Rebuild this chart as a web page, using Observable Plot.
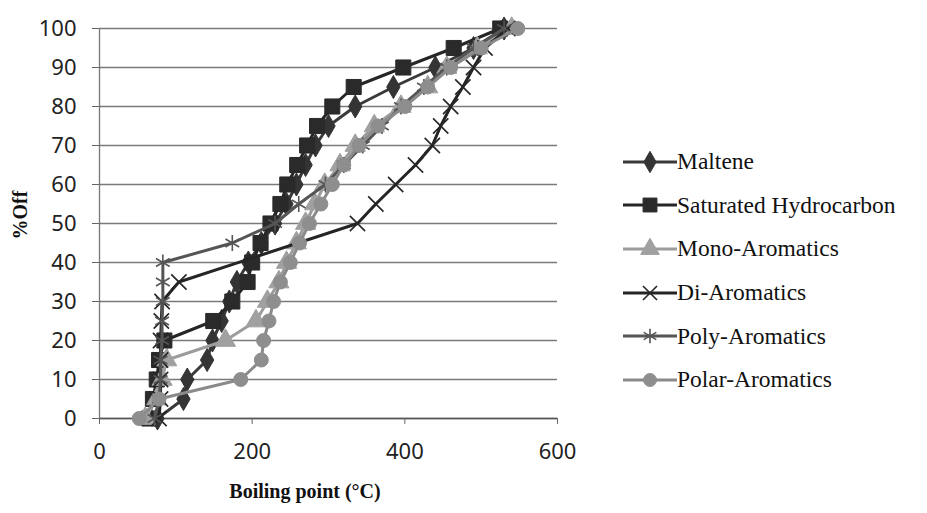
<!DOCTYPE html>
<html><head><meta charset="utf-8">
<script src="https://cdn.jsdelivr.net/npm/d3@7"></script>
<script src="https://cdn.jsdelivr.net/npm/@observablehq/plot@0.6"></script>
<style>
body{margin:0;background:#fff;}
#wrap{position:relative;width:927px;height:513px;overflow:hidden;background:#fff;}
#chart{position:absolute;left:0;top:0;}
#xlabel{position:absolute;left:305px;top:480px;transform:translateX(-50%);font:bold 20px "Liberation Serif";color:#111;white-space:nowrap;}
#ylabel{position:absolute;left:20px;top:215px;transform:translate(-50%,-50%) rotate(-90deg);font:bold 20px "Liberation Serif";color:#111;white-space:nowrap;}
#legend{position:absolute;left:623px;top:140px;}
.item{display:flex;align-items:center;height:43.6px;font:23.5px "Liberation Serif";color:#111;white-space:nowrap;}
.item svg{margin-right:0px;}
</style></head><body>
<div id="wrap"><div id="chart"></div><div id="xlabel">Boiling point (°C)</div><div id="ylabel">%Off</div><div id="legend"></div></div>
<script>
// Percent off levels
const pctAll = [0,5,10,15,20,25,30,35,40,45,50,55,60,65,70,75,80,85,90,95,100];
const pctDi  = [0,5,10,15,20,25,30,35,50,55,60,65,70,75,80,85,90,95,100];
// Boiling points (°C)
const maltBP  = [76,110,115,141,148,160,170,180,195,212,230,245,258,270,283,300,335,385,440,490,530];
const satBP   = [65,70,75,78,85,149,174,194,200,211,224,237,246,259,272,285,305,333,398,464,525];
const monoBP  = [60,75,82,88,165,205,220,235,245,258,270,282,295,315,335,360,395,430,455,495,540];
const diBP    = [78,80,80,80,80,81,82,104,338,362,388,414,436,447,460,476,490,505,535];
const polyBP  = [72,78,80,80,82,82,83,83,83,174,230,261,296,320,345,370,395,425,455,490,530];
const polarBP = [52,78,185,212,215,222,228,237,250,262,275,290,305,320,340,365,400,430,460,500,548];
const xTicks = [0,200,400,600];
const yTicks = [0,10,20,30,40,50,60,70,80,90,100];

const series = [
  {name:"Maltene", pct:pctAll, bp:maltBP, line:"#3a3a3a", col:"#343434", symbol:"diamond", d3s:d3.symbolDiamond, r:7, filled:true},
  {name:"Saturated Hydrocarbon", pct:pctAll, bp:satBP, line:"#262626", col:"#2a2a2a", symbol:"square", d3s:d3.symbolSquare, r:8.5, filled:true},
  {name:"Mono-Aromatics", pct:pctAll, bp:monoBP, line:"#9c9c9c", col:"#a0a0a0", symbol:"triangle", d3s:d3.symbolTriangle, r:7.5, filled:true},
  {name:"Di-Aromatics", pct:pctDi, bp:diBP, line:"#252525", col:"#252525", symbol:"times", d3s:d3.symbolTimes, r:7, filled:false},
  {name:"Poly-Aromatics", pct:pctAll, bp:polyBP, line:"#555555", col:"#555555", symbol:"asterisk", d3s:d3.symbolAsterisk, r:7.5, filled:false},
  {name:"Polar-Aromatics", pct:pctAll, bp:polarBP, line:"#8a8a8a", col:"#8e8e8e", symbol:"circle", d3s:d3.symbolCircle, r:7, filled:true}
];

const marks = [
  Plot.gridY(yTicks, {stroke:"#7a7a7a", strokeOpacity:1, strokeWidth:1.3}),
  Plot.ruleX([0], {stroke:"#777", strokeWidth:1.3}),
  Plot.ruleY([0], {stroke:"#555", strokeWidth:1.3}),
  Plot.axisY({ticks:yTicks, tickSize:7, tickPadding:16, fontSize:22, label:null, stroke:"#666"}),
  Plot.axisX({ticks:xTicks, tickSize:6, tickPadding:19, fontSize:22, label:null, stroke:"#666"})
];
for (const s of series) {
  const rows = s.bp.map((b,i)=>({x:b, y:s.pct[i]}));
  marks.push(Plot.line(rows, {x:"x", y:"y", stroke:s.line, strokeWidth:3}));
  marks.push(Plot.dot(rows, {x:"x", y:"y", symbol:()=>s.symbol, r:s.r,
    fill: s.filled ? s.col : "none", stroke: s.col, strokeWidth: s.filled ? 1 : 1.6}));
}

const chart = Plot.plot({
  width:600, height:513,
  marginLeft:99, marginRight:43, marginTop:28, marginBottom:95,
  style:{fontFamily:"Noto Sans", color:"#222", background:"#fff"},
  x:{domain:[0,600]},
  y:{domain:[0,100]},
  marks
});
document.getElementById("chart").appendChild(chart);

// Legend
const leg = d3.select("#legend");
for (const s of series) {
  const it = leg.append("div").attr("class","item");
  const sv = it.append("svg").attr("width",54).attr("height",24);
  sv.append("line").attr("x1",0).attr("x2",54).attr("y1",12).attr("y2",12).attr("stroke",s.line).attr("stroke-width",3);
  sv.append("path").attr("transform","translate(27,12)")
    .attr("d", d3.symbol().type(s.d3s).size(Math.PI*s.r*s.r*0.85)())
    .attr("fill", s.filled ? s.col : "none").attr("stroke", s.col).attr("stroke-width", s.filled?1:1.6);
  it.append("span").text(s.name);
}
</script>
</body></html>
